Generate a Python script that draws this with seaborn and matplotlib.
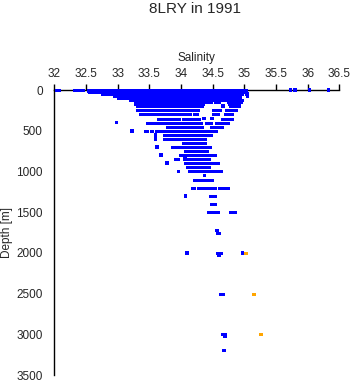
import matplotlib
matplotlib.use("Agg")
import matplotlib.pyplot as plt
import seaborn as sns
import pandas as pd

# salinity ranges per depth: (depth, s_min, s_max)
surface_rows = [
    (0, 32.02, 32.07), (0, 32.31, 32.46), (0, 32.53, 35.02),
    (10, 32.53, 35.03), (20, 32.55, 35.02), (30, 32.58, 35.0),
    (50, 32.75, 34.97), (75, 32.95, 34.93), (100, 33.0, 34.93),
    (125, 33.19, 34.64), (125, 34.67, 34.96),
    (150, 33.27, 34.48), (150, 34.53, 34.6), (150, 34.74, 34.95),
    (175, 33.28, 34.35), (175, 34.76, 34.92),
    (200, 33.3, 34.33), (200, 34.77, 34.91),
    (250, 33.31, 34.27), (250, 34.5, 34.53), (250, 34.57, 34.62), (250, 34.71, 34.87),
    (300, 33.35, 34.14), (300, 34.2, 34.26), (300, 34.5, 34.52), (300, 34.69, 34.81),
]
mid_rows = [
    (350, 33.63, 33.67), (350, 33.7, 33.79), (350, 33.83, 33.97), (350, 34.04, 34.28),
    (350, 34.65, 34.81),
    (400, 33.47, 34.31), (400, 34.39, 34.42), (400, 34.45, 34.47), (400, 34.56, 34.75),
    (450, 33.78, 34.08), (450, 34.12, 34.29), (450, 34.32, 34.34), (450, 34.48, 34.65),
    (500, 33.44, 33.46), (500, 33.52, 33.54), (500, 33.6, 34.55),
    (550, 33.73, 34.47), (600, 33.74, 34.38), (650, 34.03, 34.38),
    (700, 33.86, 34.46), (750, 34.06, 34.41), (800, 33.99, 34.53),
    (850, 33.9, 33.95), (850, 34.09, 34.15), (850, 34.19, 34.44),
    (900, 34.06, 34.58), (950, 34.1, 34.21), (950, 34.24, 34.45),
    (1000, 34.13, 34.64),
]
deep_rows = [
    (1100, 34.21, 34.49),
    (1200, 34.17, 34.21), (1200, 34.27, 34.53), (1200, 34.6, 34.74),
    (1300, 34.46, 34.53), (1400, 34.48, 34.54),
    (1500, 34.43, 34.58), (1500, 34.78, 34.86),
    (1750, 34.57, 34.6), (2000, 34.57, 34.64),
    (2500, 34.62, 34.67), (3000, 34.65, 34.69),
]
# single observations: (depth, salinity)
single_depth = [0, 0, 0, 0, 50, 80, 200, 300, 300, 350, 350, 400, 500, 550, 600,
                700, 800, 850, 900, 1000, 1050, 1300, 1725, 2000, 2000, 2030,
                3020, 3200]
single_sal = [35.73, 35.8, 36.03, 36.33, 35.04, 35.05, 34.66, 34.57, 34.58,
              34.36, 34.49, 32.98, 33.23, 33.6, 33.6, 33.62, 33.69, 34.06,
              33.78, 33.96, 34.37, 34.07, 34.57, 34.1, 34.97, 34.6, 34.69, 34.68]
# flagged values drawn in orange
flag_rows = [(2000, 35.0, 35.02), (2500, 35.14, 35.16), (3000, 35.25, 35.27)]

cols = ["depth", "smin", "smax"]
blue = pd.DataFrame(surface_rows + mid_rows + deep_rows, columns=cols)
flagged = pd.DataFrame(flag_rows, columns=cols)
singles = pd.DataFrame({"salinity": single_sal, "depth": single_depth})

sns.set_style("white")
plt.rcParams["font.family"] = ["Liberation Sans", "DejaVu Sans"]

fig = plt.figure(figsize=(3.53, 3.84), dpi=100)
ax = fig.add_axes([0.1538, 0.0234, 0.8074, 0.7422])

lw = 2.16
ax.hlines(blue["depth"], blue["smin"], blue["smax"], color="#0000ff",
          linewidth=lw, capstyle="projecting", clip_on=False, zorder=3)
ax.hlines(flagged["depth"], flagged["smin"], flagged["smax"], color="#ffa500",
          linewidth=lw, capstyle="projecting", clip_on=False, zorder=3)
sns.scatterplot(data=singles, x="salinity", y="depth", ax=ax, marker="s",
                s=7, color="#0000ff", edgecolor="none", linewidth=0,
                clip_on=False, zorder=3)

ax.set_xlim(32, 36.5)
ax.set_ylim(3500, 0)
ax.set_xticks([32, 32.5, 33, 33.5, 34, 34.5, 35, 35.5, 36, 36.5])
ax.set_xticklabels(["32", "32.5", "33", "33.5", "34", "34.5", "35", "35.5", "36", "36.5"])
ax.set_yticks([0, 500, 1000, 1500, 2000, 2500, 3000, 3500])
ax.set_xlabel("")
ax.set_ylabel("")

ax.xaxis.tick_top()
ax.xaxis.set_label_position("top")
ax.tick_params(axis="both", direction="out", length=4, width=1, color="black",
               labelsize=8.5, pad=3.4)
ax.tick_params(axis="y", pad=4.3)
for side in ["right", "bottom"]:
    ax.spines[side].set_visible(False)
for side in ["left", "top"]:
    ax.spines[side].set_linewidth(1)
    ax.spines[side].set_color("black")

ax.set_xlabel("Salinity", fontsize=8.5, labelpad=5)
ax.set_ylabel("Depth [m]", fontsize=8.5, labelpad=2)
fig.text(0.553, 1 - 13 / 384, "8LRY in 1991", ha="center", va="baseline",
         fontsize=11)

fig.savefig("out.png", dpi=100)
